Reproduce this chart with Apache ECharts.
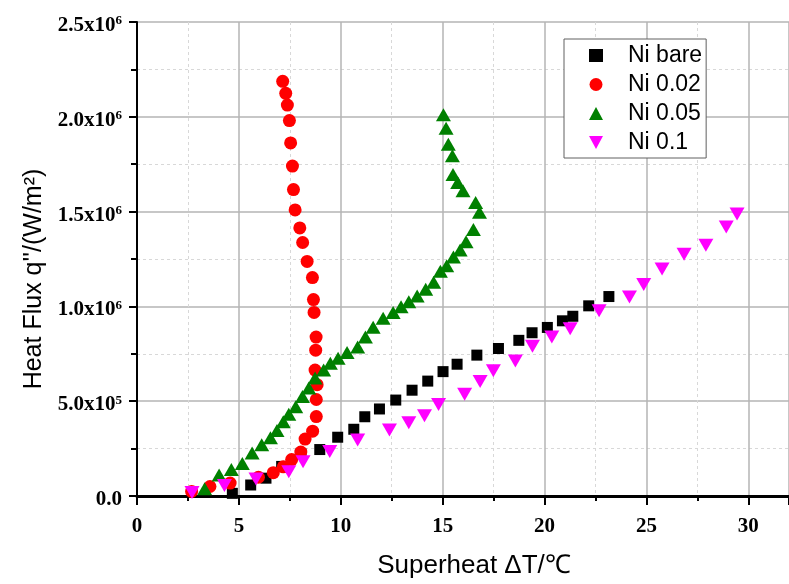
<!DOCTYPE html>
<html>
<head>
<meta charset="utf-8">
<title>Heat Flux vs Superheat</title>
<script src="https://cdn.jsdelivr.net/npm/echarts@6/dist/echarts.min.js"></script>
<style>
  html,body{margin:0;padding:0;background:#fff;}
  #chart{width:789px;height:584px;}
</style>
</head>
<body>
<div id="chart"></div>
<script>
// superheat in ℃, heat flux in units of 10^6 W/m2
const bareX = [4.68, 5.58, 6.33, 7.10, 8.05, 8.97, 9.85, 10.64, 11.18, 11.90, 12.70, 13.50, 14.27, 15.02, 15.71, 16.68, 17.74, 18.74, 19.39, 20.14, 20.88, 21.39, 22.17, 23.16]
const bareY = [0.014, 0.058, 0.094, 0.156, 0.222, 0.245, 0.310, 0.352, 0.418, 0.459, 0.506, 0.558, 0.606, 0.656, 0.695, 0.743, 0.778, 0.821, 0.861, 0.889, 0.924, 0.948, 1.003, 1.052]

const ni002X = [2.68, 3.58, 4.57, 5.96, 6.69, 7.18, 7.59, 8.04, 8.25, 8.62, 8.80, 8.80, 8.84, 8.74, 8.77, 8.79, 8.69, 8.66, 8.61, 8.35, 8.13, 7.99, 7.76, 7.68, 7.63, 7.54, 7.48, 7.38, 7.30, 7.15]
const ni002Y = [0.024, 0.050, 0.068, 0.099, 0.123, 0.154, 0.192, 0.232, 0.300, 0.342, 0.419, 0.509, 0.587, 0.664, 0.769, 0.838, 0.968, 1.036, 1.152, 1.237, 1.337, 1.414, 1.509, 1.616, 1.740, 1.862, 1.980, 2.062, 2.124, 2.187]

const ni005X = [3.32, 4.03, 4.63, 5.17, 5.65, 6.12, 6.55, 6.87, 7.18, 7.45, 7.79, 8.12, 8.43, 8.74, 9.16, 9.49, 9.87, 10.31, 10.83, 11.21, 11.59, 12.08, 12.57, 12.96, 13.34, 13.75, 14.17, 14.56, 14.89, 15.20, 15.53, 15.86, 16.15, 16.51, 16.81, 16.62, 16.00, 15.74, 15.51, 15.48, 15.28, 15.17, 15.04]
const ni005Y = [0.038, 0.111, 0.140, 0.172, 0.227, 0.270, 0.307, 0.345, 0.391, 0.431, 0.471, 0.525, 0.570, 0.622, 0.665, 0.700, 0.726, 0.757, 0.786, 0.838, 0.890, 0.937, 0.968, 0.998, 1.024, 1.055, 1.090, 1.128, 1.185, 1.215, 1.260, 1.298, 1.341, 1.405, 1.497, 1.548, 1.610, 1.653, 1.696, 1.795, 1.855, 1.939, 2.011]

const ni01X = [2.70, 4.29, 5.84, 7.45, 8.15, 9.46, 10.83, 12.39, 13.34, 14.11, 14.80, 16.08, 16.84, 17.49, 18.57, 19.41, 20.36, 21.26, 22.68, 24.17, 24.87, 25.77, 26.85, 27.92, 28.92, 29.45]
const ni01Y = [0.019, 0.056, 0.090, 0.128, 0.180, 0.235, 0.296, 0.348, 0.386, 0.423, 0.483, 0.537, 0.604, 0.660, 0.712, 0.790, 0.838, 0.882, 0.977, 1.050, 1.116, 1.197, 1.275, 1.322, 1.419, 1.488]

const seriesNames = ['Ni bare', 'Ni 0.02', 'Ni 0.05', 'Ni 0.1']
// mantissa / exponent for each y tick (0, 0.5, 1.0 ... 2.5)
const yTickMant = ['0.0', '5.0x10', '1.0x10', '1.5x10', '2.0x10', '2.5x10']
const yTickExp = ['', '5', '6', '6', '6', '6']

// downward triangle for the legend icon (legend does not pick up symbolRotate)
const downTri = 'path://M0,0L14,0L7,13Z'

function pairs(xs, ys){
  return xs.map((x, i) => [x, ys[i]])
}

const labelFont = {fontFamily:'Liberation Serif', fontWeight:'bold', fontSize:21, color:'#000'}
const gridLine = {show:true, lineStyle:{color:'#b4b4b4', width:1.5}}
const minorLine = {show:true, lineStyle:{color:'#d8d8d8', width:1, type:[3,3]}}

const myChart = echarts.init(document.getElementById('chart'), null, {renderer:'canvas'})
const option = {
  backgroundColor:'#fff',
  animation:false,
  grid:{left:137, top:22, right:0, bottom:81},
  legend:{
    orient:'vertical',
    left:564,
    top:39,
    data:[
      {name:seriesNames[0]},
      {name:seriesNames[1]},
      {name:seriesNames[2]},
      {name:seriesNames[3], icon:downTri}
    ],
    backgroundColor:'#fff',
    borderColor:'#606060',
    borderWidth:1,
    padding:[5,4,4,25],
    itemGap:6,
    itemWidth:14,
    itemHeight:13,
    textStyle:{fontFamily:'Liberation Sans', fontSize:23, color:'#000', padding:[0,0,0,20]}
  },
  xAxis:[
    {
      type:'value',
      min:0,
      max:32,
      interval:5,
      name:'Superheat ΔT/℃',
      nameLocation:'middle',
      nameGap:57,
      nameTextStyle:{fontFamily:'Liberation Sans', fontSize:26, color:'#000', padding:[0,0,0,22]},
      axisLine:{show:true, onZero:false, lineStyle:{color:'#000', width:2}},
      axisTick:{show:true, inside:false, length:9, lineStyle:{color:'#000', width:2}},
      minorTick:{show:true, splitNumber:2, length:5, lineStyle:{color:'#000', width:2}},
      axisLabel:{...labelFont, margin:20, showMaxLabel:false},
      splitLine:gridLine,
      minorSplitLine:minorLine
    },
    {
      // heavy frame line along the top
      type:'value',
      position:'top',
      min:0,
      max:32,
      axisLine:{show:true, lineStyle:{color:'#000', width:3}},
      axisTick:{show:false},
      axisLabel:{show:false},
      splitLine:{show:false}
    }
  ],
  yAxis:{
    type:'value',
    min:0,
    max:2.5,
    interval:0.5,
    name:"Heat Flux q''/(W/m²)",
    nameLocation:'middle',
    nameGap:87,
    nameTextStyle:{fontFamily:'Liberation Sans', fontSize:25, color:'#000', padding:[0,40,0,0]},
    axisLine:{show:true, lineStyle:{color:'#000', width:2}},
    axisTick:{show:true, length:8, lineStyle:{color:'#000', width:2}},
    minorTick:{show:true, splitNumber:2, length:6, lineStyle:{color:'#000', width:2}},
    axisLabel:{
      margin:15,
      padding:[7,0,0,0],
      formatter:(v, i) => {
        const exp = yTickExp[i]
        return exp ? '{m|' + yTickMant[i] + '}{e|' + exp + '}' : '{m|' + yTickMant[i] + '}'
      },
      rich:{
        m:{...labelFont, lineHeight:24},
        e:{fontFamily:'Liberation Serif', fontWeight:'bold', fontSize:13, color:'#000', lineHeight:13, verticalAlign:'bottom', padding:[0,0,10,0]}
      }
    },
    splitLine:gridLine,
    minorSplitLine:minorLine
  },
  series:[
    {
      name:seriesNames[0],
      type:'scatter',
      symbol:'rect',
      symbolSize:11,
      itemStyle:{color:'#000000', opacity:1},
      data:pairs(bareX, bareY),
      z:3
    },
    {
      name:seriesNames[1],
      type:'scatter',
      symbol:'circle',
      symbolSize:13,
      itemStyle:{color:'#ff0000', opacity:1},
      data:pairs(ni002X, ni002Y),
      z:4
    },
    {
      name:seriesNames[2],
      type:'scatter',
      symbol:'triangle',
      symbolSize:[15,13],
      itemStyle:{color:'#008000', opacity:1},
      data:pairs(ni005X, ni005Y),
      z:5
    },
    {
      name:seriesNames[3],
      type:'scatter',
      symbol:'triangle',
      symbolRotate:180,
      symbolSize:[15,13],
      itemStyle:{color:'#ff00ff', opacity:1},
      data:pairs(ni01X, ni01Y),
      z:6
    }
  ]
}
myChart.setOption(option)
</script>
</body>
</html>
